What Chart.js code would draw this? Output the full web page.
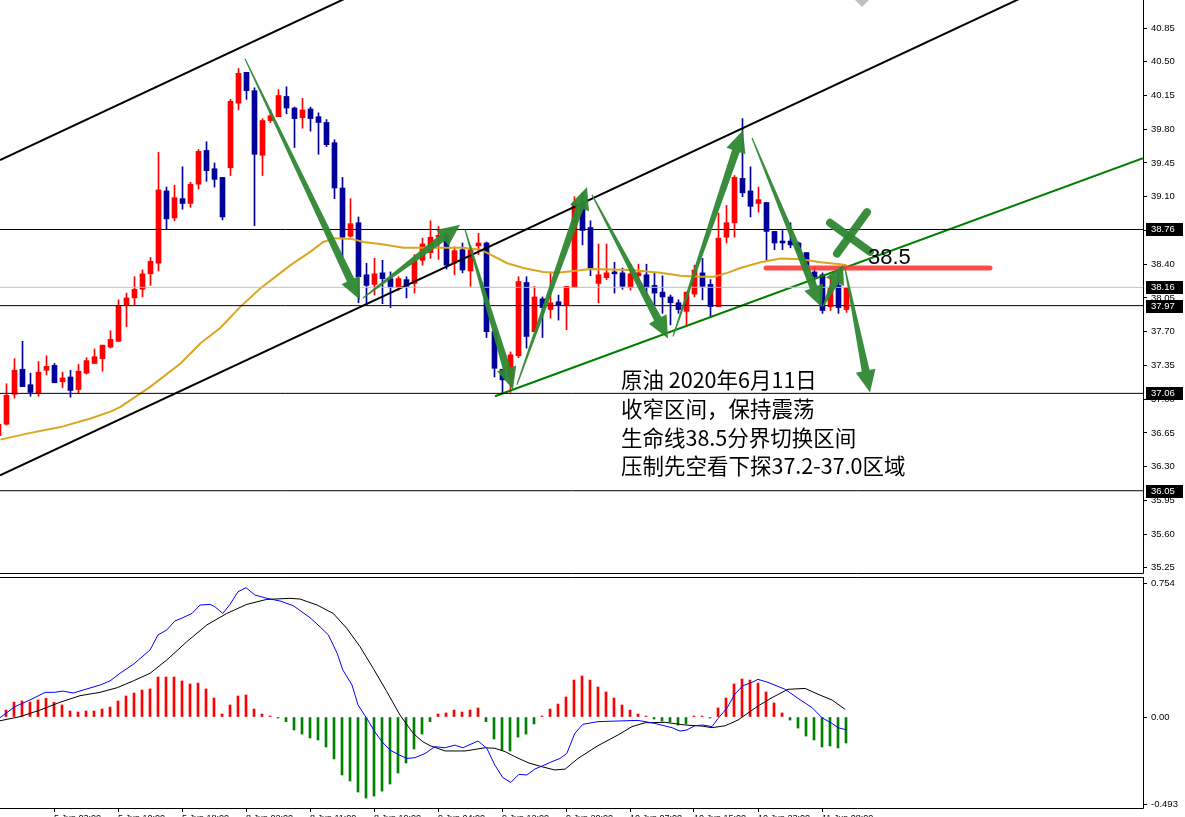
<!DOCTYPE html>
<html>
<head>
<meta charset="utf-8">
<script src="https://cdn.jsdelivr.net/npm/chart.js@4.4.1/dist/chart.umd.min.js"></script>
<style>
    html, body { margin: 0; padding: 0; background: #fff; overflow: hidden; }
    #wrap { position: relative; width: 1185px; height: 817px; overflow: hidden; }
    #priceChart { position: absolute; left: 0; top: 0; }
    #macdChart { position: absolute; left: 0; top: 576px; }
</style>
</head>
<body>
<div id="wrap">
    <canvas id="priceChart" width="1185" height="574"></canvas>
    <canvas id="macdChart" width="1185" height="252"></canvas>
</div>
<script>
'use strict';

//candles, one per hour (index 0 is the half hidden one on the left edge)
var candleOpen = [36.62,36.74,37.05,37.31,37.15,37.06,37.30,37.35,37.18,37.23,37.10,37.27,37.37,37.42,37.54,37.60,37.98,38.05,38.14,38.30,
    38.41,39.16,38.88,39.08,39.03,39.23,39.58,39.39,39.30,39.40,40.07,40.39,40.20,39.53,39.89,39.93,40.14,40.02,39.92,40.01,
    39.93,39.87,39.66,39.19,38.69,38.83,38.29,38.19,38.31,38.25,38.16,38.24,38.20,38.44,38.52,38.68,38.70,38.41,38.55,38.33,
    38.59,38.62,37.70,37.31,37.21,37.45,38.21,37.70,38.04,37.93,38.01,37.98,38.16,39.02,38.78,38.20,38.26,38.32,38.31,38.16,
    38.28,38.29,38.18,38.11,38.06,38.00,37.91,38.09,38.31,38.19,37.96,38.68,38.83,39.29,39.16,39.03,39.04,38.74,38.64,38.64,
    38.62,38.52,38.32,38.29,37.96,38.18,37.93];
var candleHigh = [36.76,37.16,37.42,37.60,37.27,37.39,37.45,37.37,37.28,37.30,37.36,37.43,37.52,37.56,37.71,38.03,38.10,38.27,38.34,38.47,
    39.56,39.20,39.22,39.41,39.25,39.59,39.67,39.45,39.30,40.11,40.43,40.39,40.23,39.91,40.00,40.21,40.24,40.03,40.12,40.03,
    39.97,39.90,39.69,39.30,39.08,38.89,38.41,38.46,38.44,38.32,38.27,38.27,38.50,38.67,38.85,38.79,38.72,38.58,38.62,38.59,
    38.72,38.63,37.72,37.31,37.49,38.27,38.27,38.17,38.06,38.31,38.08,38.17,39.10,39.14,38.85,38.61,38.61,38.42,38.36,38.40,
    38.40,38.40,38.31,38.28,38.08,38.03,38.11,38.39,38.46,38.24,38.93,39.01,39.32,39.91,39.41,39.20,39.04,38.74,38.75,38.83,
    38.63,38.52,38.37,38.31,38.27,38.31,38.16];
var candleLow = [36.58,36.73,37.01,37.13,37.03,37.03,37.25,37.17,37.12,37.02,37.06,37.26,37.37,37.29,37.53,37.60,37.75,37.98,38.06,38.18,
    38.33,38.76,38.85,38.97,38.99,39.18,39.26,39.20,38.86,39.32,40.00,40.11,38.80,39.32,39.87,39.93,39.96,39.61,39.81,39.78,
    39.54,39.62,39.08,38.48,38.68,38.00,37.98,38.08,37.99,37.95,38.13,38.05,38.10,38.39,38.46,38.45,38.35,38.29,38.31,38.17,
    38.50,37.64,37.23,37.06,37.07,37.43,37.53,37.70,37.64,37.84,37.82,37.72,38.16,38.60,38.28,38.00,38.24,38.10,38.14,38.13,
    38.21,38.08,37.98,37.89,37.77,37.89,37.75,38.06,38.03,37.85,37.96,38.62,38.68,39.10,38.89,38.94,38.44,38.55,38.55,38.57,
    38.53,38.34,38.20,37.89,37.92,37.89,37.90];
var candleClose = [36.74,37.04,37.30,37.13,37.07,37.28,37.34,37.17,37.22,37.09,37.29,37.40,37.44,37.56,37.62,37.97,38.05,38.14,38.30,38.43,
    39.17,38.87,39.09,39.03,39.23,39.57,39.37,39.28,38.89,40.09,40.38,40.20,39.54,39.89,39.94,40.15,40.02,39.91,40.00,39.91,
    39.87,39.64,39.19,38.68,38.82,38.27,38.18,38.30,38.25,38.16,38.25,38.17,38.44,38.61,38.68,38.70,38.39,38.54,38.34,38.55,
    38.62,37.70,37.32,37.20,37.46,38.22,37.65,38.06,37.95,38.00,37.98,38.17,39.03,38.75,38.36,38.29,38.31,38.30,38.17,38.30,
    38.31,38.16,38.10,38.06,38.00,37.93,38.11,38.34,38.17,37.96,38.67,38.83,39.30,39.14,39.00,39.07,38.74,38.62,38.62,38.60,
    38.55,38.37,38.27,37.92,38.15,37.95,38.16];

//moving average: [candle index, price]
var maPoints = [[0.25,36.58],[4,36.65],[7.75,36.71],[11.5,36.80],[14,36.87],[15.25,36.92],[17.75,37.06],[19,37.13],[22.75,37.37],
    [25.25,37.58],[27.75,37.74],[30.25,37.96],[32.75,38.15],[35.25,38.31],[36.5,38.39],[37.75,38.46],[39,38.53],[40.6,38.63],
    [42.1,38.67],[44.25,38.66],[45.6,38.63],[47.75,38.61],[50.6,38.57],[55.6,38.57],[58.1,38.57],[60.25,38.55],[61.5,38.50],
    [63.6,38.41],[65.6,38.36],[68.1,38.32],[69.9,38.31],[71.9,38.33],[74,38.35],[79,38.34],[82.75,38.31],[85.25,38.28],
    [87.75,38.27],[89.4,38.27],[91.1,38.31],[92.75,38.36],[95.25,38.42],[97.75,38.46],[100.25,38.45],[102.75,38.42],
    [105.25,38.40],[106,38.39]];

//price axis
var priceTicks = [35.25,35.60,35.95,36.30,36.65,37.00,37.35,37.70,38.05,38.40,38.75,39.10,39.45,39.80,40.15,40.50,40.85];
var hLevels = [38.76, 38.16, 37.97, 37.06, 36.05];
var hLevelColors = ['#000000', '#c0c0c0', '#000000', '#000000', '#000000'];

//drawn objects, [candle index, price]
var channelUpper = [[0.19,39.48],[45,41.22]];
var channelLower = [[0.19,36.21],[130,41.245]];
var greenTrend = [[62.06,37.03],[143.06,39.50]];
var lifeLine = [[95.94,38.36],[123.94,38.36]];
var crossA = [[103.94,38.83],[108.94,38.53]];
var crossB = [[108.56,38.94],[104.81,38.51]];
var arrows = [
    [[30.81,40.53],[45.19,38.03]],
    [[45.56,38.05],[57.69,38.81]],
    [[58.31,38.76],[64.31,37.10]],
    [[64.81,37.15],[73.56,39.20]],
    [[74.19,39.12],[83.69,37.63]],
    [[84.31,37.65],[93.06,39.79]],
    [[94.19,39.71],[102.94,37.95]],
    [[103.06,37.96],[105.56,38.39]],
    [[105.81,38.36],[108.94,37.07]]
];
var noteLines = ['原油 2020年6月11日', '收窄区间，保持震荡', '生命线38.5分界切换区间', '压制先空看下探37.2-37.0区域'];
var lifeLineLabel = '38.5';

//MACD
var macdHist = [0.02,0.039,0.084,0.090,0.084,0.096,0.105,0.083,0.068,0.034,0.028,0.034,0.034,0.045,0.056,0.090,0.118,0.135,0.152,0.158,
    0.225,0.225,0.225,0.203,0.186,0.191,0.158,0.107,0.017,0.068,0.118,0.124,0.045,0.017,0.002,-0.004,-0.026,-0.073,-0.096,-0.118,
    -0.129,-0.169,-0.236,-0.326,-0.360,-0.422,-0.456,-0.445,-0.417,-0.377,-0.315,-0.259,-0.180,-0.096,-0.026,0.017,0.023,0.039,0.028,0.039,
    0.051,-0.026,-0.124,-0.186,-0.191,-0.113,-0.096,-0.039,0.004,0.045,0.073,0.113,0.208,0.231,0.208,0.169,0.141,0.107,0.068,0.039,
    0.017,0.004,-0.011,-0.023,-0.028,-0.045,-0.039,0.002,0.002,-0.002,0.051,0.107,0.186,0.214,0.208,0.191,0.141,0.079,0.023,-0.017,
    -0.062,-0.107,-0.129,-0.169,-0.163,-0.174,-0.146];
var macdBlue = [[0.25,-0.004],[2.1,0.058],[4,0.096],[5.9,0.139],[7.1,0.139],[8.1,0.146],[9.4,0.135],[11.1,0.158],[12.75,0.180],
    [14,0.203],[15.25,0.246],[16.9,0.296],[19,0.377],[20,0.462],[21.1,0.490],[22.1,0.540],[23.1,0.559],[24.25,0.583],[25.25,0.630],
    [26.5,0.634],[27.1,0.621],[28.1,0.583],[29,0.634],[30,0.705],[31,0.728],[32.1,0.687],[33.6,0.668],[35.25,0.653],[36.9,0.627],
    [39,0.559],[40.25,0.508],[41.3,0.462],[42.4,0.358],[43.1,0.265],[44.25,0.180],[45,0.068],[46.1,-0.008],[47.1,-0.083],[48,-0.139],
    [49,-0.186],[50,-0.210],[51.1,-0.233],[52.1,-0.229],[53.4,-0.205],[54.6,-0.167],[55.9,-0.173],[57.1,-0.158],[58.1,-0.173],
    [60,-0.135],[61.1,-0.176],[62.1,-0.270],[63.1,-0.341],[64.1,-0.368],[65.1,-0.323],[66.1,-0.326],[67.1,-0.293],[68.1,-0.274],
    [69.25,-0.251],[70.25,-0.233],[71.1,-0.205],[72.1,-0.092],[73.1,-0.041],[75,-0.026],[77.1,-0.023],[80,-0.019],[82.1,-0.036],
    [84.25,-0.060],[85.25,-0.079],[86.1,-0.073],[87.1,-0.049],[88.1,-0.045],[89.25,-0.054],[90,-0.008],[91.1,0.049],[92.1,0.128],
    [93.1,0.176],[94.25,0.195],[95,0.212],[96.25,0.195],[98.4,0.156],[100,0.105],[101.75,0.053],[103,-0.004],[104.25,-0.036],
    [105,-0.060],[106.1,-0.073]];
var macdSignal = [[0.25,-0.021],[2.75,0.002],[5.25,0.039],[7.75,0.083],[10.25,0.120],[12.75,0.139],[14.9,0.165],[16.9,0.203],
    [19,0.246],[21.1,0.321],[23.6,0.424],[26.1,0.518],[28.6,0.583],[31.1,0.634],[33.6,0.662],[36.5,0.668],[37.75,0.664],[39.9,0.630],
    [41.9,0.583],[43.6,0.499],[45.25,0.396],[46.9,0.274],[48.6,0.143],[50.25,0.011],[51.9,-0.092],[53.1,-0.139],[54,-0.161],
    [55.9,-0.191],[58.4,-0.191],[60.9,-0.173],[62.1,-0.176],[63.4,-0.195],[64.6,-0.223],[66.25,-0.257],[68,-0.280],[69.6,-0.298],
    [70.9,-0.293],[72.5,-0.233],[75,-0.161],[77.5,-0.101],[79.25,-0.054],[80.9,-0.032],[83.4,-0.030],[85.9,-0.045],[88,-0.051],
    [89.25,-0.060],[90.9,-0.049],[92.5,-0.017],[95,0.062],[96.75,0.109],[98.75,0.156],[100.9,0.161],[102.5,0.128],[104.25,0.096],
    [105.9,0.043]];
var macdTicks = [0.754, 0, -0.493];
var macdTickLabels = ['0.754', '0.00', '-0.493'];

//time axis
var timeTickPos = [7,15,23,31,39,47,55,63,71,79,87,95,103];
var timeTickLabels = ['5 Jun 03:00','5 Jun 10:00','5 Jun 18:00','8 Jun 02:00','8 Jun 11:00','8 Jun 19:00','9 Jun 04:00',
    '9 Jun 12:00','9 Jun 20:00','10 Jun 07:00','10 Jun 15:00','10 Jun 23:00','11 Jun 08:00'];

/*
********************************************************************************************************************************
*/

var X_MIN = 0.1875, X_MAX = 143.0625;   //visible candle range (8px per candle, chart shifted right)
var Y_MIN = 35.1965, Y_MAX = 41.1405;
var UP = '#ff0000', DOWN = '#000099', ARROW = 'rgba(46,135,50,0.95)';
var AXIS_FONT = {family: 'Liberation Sans', size: 9.5};

Chart.defaults.animation = false;
Chart.defaults.font.family = 'Liberation Sans';

function pts(list) {
    return list.map(function(p) { return {x: p[0], y: p[1]}; });
}

function lineSet(list, color, width, order, cap) {
    return {
        type: 'line', data: pts(list), borderColor: color, borderWidth: width,
        pointRadius: 0, fill: false, tension: 0, order: order, borderCapStyle: cap || 'butt'
    };
}

//draws the border lines of the chart window
var framePlugin = {
    id: 'frame',
    afterDraw: function(chart, args, opts) {
        var a = chart.chartArea, ctx = chart.ctx;
        ctx.save();
        ctx.strokeStyle = '#000';
        ctx.lineWidth = 1;
        ctx.beginPath();
        if (opts.top) { ctx.moveTo(a.left, a.top + 0.5); ctx.lineTo(a.right + 0.5, a.top + 0.5); }
        ctx.moveTo(a.right + 0.5, a.top); ctx.lineTo(a.right + 0.5, a.bottom + 0.5);
        ctx.moveTo(a.left, a.bottom + 0.5); ctx.lineTo(a.right + 0.5, a.bottom + 0.5);
        ctx.stroke();
        ctx.restore();
    }
};

function drawArrow(ctx, x1, y1, x2, y2) {
    var dx = x2 - x1, dy = y2 - y1, len = Math.hypot(dx, dy);
    var ux = dx / len, uy = dy / len, nx = -uy, ny = ux;
    var headLen = Math.min(22, len * 0.4), headW = 10, w0 = 0.6, w1 = 4;
    var bx = x2 - ux * headLen, by = y2 - uy * headLen;
    ctx.beginPath();
    ctx.moveTo(x1 + nx * w0, y1 + ny * w0);
    ctx.lineTo(bx + nx * w1, by + ny * w1);
    ctx.lineTo(bx + nx * headW, by + ny * headW);
    ctx.lineTo(x2, y2);
    ctx.lineTo(bx - nx * headW, by - ny * headW);
    ctx.lineTo(bx - nx * w1, by - ny * w1);
    ctx.lineTo(x1 - nx * w0, y1 - ny * w0);
    ctx.closePath();
    ctx.fill();
}

//arrows, notes and the price boxes on the axis
var notesPlugin = {
    id: 'notes',
    afterDatasetsDraw: function(chart) {
        var ctx = chart.ctx, xs = chart.scales.x, ys = chart.scales.y, a = chart.chartArea;
        ctx.save();
        ctx.beginPath();
        ctx.rect(a.left, a.top, a.right - a.left, a.bottom - a.top);
        ctx.clip();

        ctx.fillStyle = ARROW;
        arrows.forEach(function(ar) {
            drawArrow(ctx, xs.getPixelForValue(ar[0][0]), ys.getPixelForValue(ar[0][1]),
                xs.getPixelForValue(ar[1][0]), ys.getPixelForValue(ar[1][1]));
        });

        //chart shift marker
        ctx.fillStyle = '#c0c0c0';
        ctx.beginPath();
        ctx.moveTo(855, 0); ctx.lineTo(869, 0); ctx.lineTo(862, 7);
        ctx.closePath();
        ctx.fill();

        ctx.fillStyle = '#000';
        ctx.textBaseline = 'middle';
        ctx.font = '22px "Liberation Sans"';
        ctx.fillText(lifeLineLabel, xs.getPixelForValue(lifeLine[0][0]) + 102, ys.getPixelForValue(lifeLine[0][1]) - 10);

        ctx.font = '21.5px "Noto Sans CJK SC"';
        noteLines.forEach(function(t, i) {
            ctx.fillText(t, 621, 380 + i * 28.7);
        });
        ctx.restore();
    },
    afterDraw: function(chart) {
        var ctx = chart.ctx, ys = chart.scales.y, a = chart.chartArea;
        ctx.save();
        ctx.font = '9.5px "Liberation Sans"';
        ctx.textBaseline = 'middle';
        hLevels.forEach(function(lvl) {
            var y = Math.round(ys.getPixelForValue(lvl));
            ctx.fillStyle = '#000';
            ctx.fillRect(a.right + 3, y - 6, 37, 13);
            ctx.fillStyle = '#fff';
            ctx.fillText(lvl.toFixed(2), a.right + 8, y + 0.5);
        });
        ctx.restore();
    }
};

/*
********************************************************************************************************************************
*/

function loadPriceChart() {
    var idx = candleOpen.map(function(v, i) { return i; });
    var colors = idx.map(function(i) { return candleClose[i] >= candleOpen[i] ? UP : DOWN; });

    var datasets = [];
    hLevels.forEach(function(lvl, i) {
        datasets.push(lineSet([[X_MIN, lvl], [X_MAX, lvl]], hLevelColors[i], 1, 1));
    });
    datasets.push(lineSet(channelUpper, '#000', 2, 1));
    datasets.push(lineSet(channelLower, '#000', 2, 1));
    datasets.push(lineSet(greenTrend, '#007f00', 2, 1));
    datasets.push(lineSet(lifeLine, 'rgba(255,55,55,0.9)', 5, 0, 'round'));
    datasets.push(lineSet(crossA, ARROW, 8, 0, 'round'));
    datasets.push(lineSet(crossB, ARROW, 8, 0, 'round'));
    datasets.push(lineSet(maPoints, '#daa520', 2, 2));

    datasets.push({
        type: 'bar', order: 3, grouped: false,
        data: idx.map(function(i) { return {x: i, y: [candleOpen[i], candleClose[i]]}; }),
        backgroundColor: colors, borderWidth: 0, barThickness: 5, maxBarThickness: 5, minBarLength: 1
    });
    datasets.push({
        type: 'bar', order: 4, grouped: false,
        data: idx.map(function(i) { return {x: i, y: [candleLow[i], candleHigh[i]]}; }),
        backgroundColor: colors, borderWidth: 0, barThickness: 1, maxBarThickness: 1, minBarLength: 1
    });

    new Chart(document.getElementById('priceChart'), {
        type: 'bar',
        data: {datasets: datasets},
        plugins: [framePlugin, notesPlugin],
        options: {
            responsive: false,
            devicePixelRatio: 1,
            events: [],
            layout: {padding: {left: 0, right: 0, top: 0, bottom: 1}},
            plugins: {legend: {display: false}, tooltip: {enabled: false}, frame: {top: false}},
            scales: {
                x: {type: 'linear', display: false, min: X_MIN, max: X_MAX, offset: false, grid: {offset: false}},
                y: {
                    type: 'linear', position: 'right', min: Y_MIN, max: Y_MAX,
                    afterBuildTicks: function(s) { s.ticks = priceTicks.map(function(v) { return {value: v}; }); },
                    afterFit: function(s) { s.width = 42; s.paddingTop = 0; s.paddingBottom = 0; },
                    ticks: {autoSkip: false, color: '#000', font: AXIS_FONT, padding: 4,
                        callback: function(v) { return Number(v).toFixed(2); }},
                    grid: {drawOnChartArea: false, tickLength: 4, color: '#000'},
                    border: {display: false}
                }
            }
        }
    });
}

function loadMacdChart() {
    var idx = macdHist.map(function(v, i) { return i; });
    //half a pixel shift so the 2px histogram bars land on whole pixels
    var shift = 0.5 / 8;

    new Chart(document.getElementById('macdChart'), {
        type: 'bar',
        data: {
            datasets: [
                lineSet(macdBlue, '#0000ff', 1, 0),
                lineSet(macdSignal, '#000000', 1, 0),
                {
                    type: 'bar', order: 1, grouped: false,
                    data: idx.map(function(i) { return {x: i, y: macdHist[i]}; }),
                    backgroundColor: macdHist.map(function(v) { return v >= 0 ? '#ff0000' : '#008000'; }),
                    borderWidth: 0, barThickness: 2, maxBarThickness: 2, minBarLength: 1
                }
            ]
        },
        plugins: [framePlugin],
        options: {
            responsive: false,
            devicePixelRatio: 1,
            events: [],
            layout: {padding: {left: 0, right: 0, top: 1, bottom: 0}},
            plugins: {legend: {display: false}, tooltip: {enabled: false}, frame: {top: true}},
            scales: {
                x: {
                    type: 'linear', position: 'bottom', min: X_MIN + shift, max: X_MAX + shift, offset: false,
                    afterBuildTicks: function(s) { s.ticks = timeTickPos.map(function(v) { return {value: v}; }); },
                    afterFit: function(s) { s.height = 20; s.paddingLeft = 0; s.paddingRight = 0; },
                    ticks: {autoSkip: false, maxRotation: 0, minRotation: 0, align: 'start', padding: 1,
                        color: '#000', font: {family: 'Liberation Sans', size: 9},
                        callback: function(v, i) { return timeTickLabels[i]; }},
                    grid: {drawOnChartArea: false, tickLength: 4, color: '#000', offset: false},
                    border: {display: false}
                },
                y: {
                    type: 'linear', position: 'right', min: -0.512, max: 0.788,
                    afterBuildTicks: function(s) { s.ticks = macdTicks.map(function(v) { return {value: v}; }); },
                    afterFit: function(s) { s.width = 42; s.paddingTop = 0; s.paddingBottom = 0; },
                    ticks: {autoSkip: false, color: '#000', font: AXIS_FONT, padding: 4,
                        callback: function(v, i) { return macdTickLabels[i]; }},
                    grid: {drawOnChartArea: false, tickLength: 4, color: '#000'},
                    border: {display: false}
                }
            }
        }
    });
}

loadPriceChart();
loadMacdChart();
</script>
</body>
</html>
